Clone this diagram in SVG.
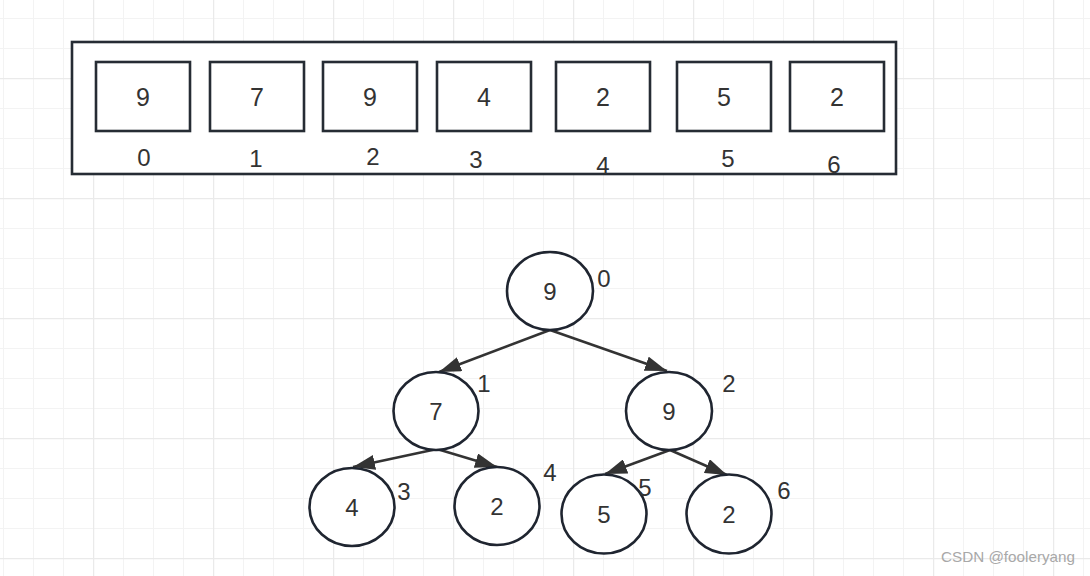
<svg xmlns="http://www.w3.org/2000/svg" width="1090" height="576" viewBox="0 0 1090 576">
<defs>
<pattern id="minor" x="3" y="18" width="30" height="30" patternUnits="userSpaceOnUse">
<path d="M0 0H30M0 0V30" fill="none" stroke="#f3f3f3" stroke-width="2"/>
</pattern>
<pattern id="major" x="93" y="78" width="120" height="120" patternUnits="userSpaceOnUse">
<path d="M0 0H120M0 0V120" fill="none" stroke="#eaeaea" stroke-width="2.5"/>
</pattern>
<marker id="arr" viewBox="0 0 22 15" refX="22" refY="7.5" markerWidth="22" markerHeight="15" orient="auto" markerUnits="userSpaceOnUse">
<path d="M0 0L22 7.5L0 15Z" fill="#333"/>
</marker>
</defs>
<style>
.box{fill:#fff;stroke:#262c34;stroke-width:2.6}
.node{fill:#fff;stroke:#1f2530;stroke-width:2.6}
.t{font-family:"Liberation Sans",Arial,sans-serif;font-size:25px;fill:#333;text-anchor:middle;dominant-baseline:central}
.lbl{font-family:"Liberation Sans",Arial,sans-serif;font-size:24px;fill:#333;text-anchor:middle;dominant-baseline:central}
.edge{stroke:#333;stroke-width:2.5;fill:none;marker-end:url(#arr)}
.wm{font-family:"Liberation Sans",Arial,sans-serif;font-size:15px;fill:#a8a8a8}
</style>
<rect width="1090" height="576" fill="#fff"/>
<rect width="1090" height="576" fill="url(#minor)"/>
<rect width="1090" height="576" fill="url(#major)"/>

<g id="array">
<rect class="box" x="72" y="42" width="824" height="132"/>
</g>
<g id="cell0"><rect class="box" x="96" y="62" width="94" height="69"/><text class="t" x="143" y="97">9</text><text class="lbl" x="144" y="157">0</text></g>
<g id="cell1"><rect class="box" x="210" y="62" width="94" height="69"/><text class="t" x="257" y="97">7</text><text class="lbl" x="256" y="158">1</text></g>
<g id="cell2"><rect class="box" x="323" y="62" width="94" height="69"/><text class="t" x="370" y="97">9</text><text class="lbl" x="373" y="156">2</text></g>
<g id="cell3"><rect class="box" x="437" y="62" width="94" height="69"/><text class="t" x="484" y="97">4</text><text class="lbl" x="476" y="159">3</text></g>
<g id="cell4"><rect class="box" x="556" y="62" width="94" height="69"/><text class="t" x="603" y="97">2</text><text class="lbl" x="603" y="165">4</text></g>
<g id="cell5"><rect class="box" x="677" y="62" width="94" height="69"/><text class="t" x="724" y="97">5</text><text class="lbl" x="728" y="158">5</text></g>
<g id="cell6"><rect class="box" x="790" y="62" width="94" height="69"/><text class="t" x="837" y="97">2</text><text class="lbl" x="834" y="164">6</text></g>

<g id="connectors">
<line class="edge" x1="550" y1="330" x2="439" y2="372"/>
<line class="edge" x1="550" y1="330" x2="667" y2="371"/>
<line class="edge" x1="437" y1="449" x2="353" y2="467"/>
<line class="edge" x1="437" y1="449" x2="497" y2="467"/>
<line class="edge" x1="670" y1="450" x2="605" y2="474"/>
<line class="edge" x1="670" y1="450" x2="727" y2="475"/>
</g>

<g id="n0"><ellipse class="node" cx="550" cy="291" rx="43" ry="39"/><text class="lbl" x="550" y="291">9</text><text class="lbl" x="604" y="278">0</text></g>
<g id="n1"><ellipse class="node" cx="436" cy="411" rx="42.5" ry="39"/><text class="lbl" x="436" y="411">7</text><text class="lbl" x="484" y="383">1</text></g>
<g id="n2"><ellipse class="node" cx="669" cy="411" rx="43" ry="39"/><text class="lbl" x="669" y="411">9</text><text class="lbl" x="729" y="383">2</text></g>
<g id="n3"><ellipse class="node" cx="352" cy="507" rx="42.5" ry="39"/><text class="lbl" x="352" y="507">4</text><text class="lbl" x="404" y="491">3</text></g>
<g id="n4"><ellipse class="node" cx="497" cy="506" rx="42.5" ry="39"/><text class="lbl" x="497" y="506">2</text><text class="lbl" x="550" y="472">4</text></g>
<g id="n5"><ellipse class="node" cx="604" cy="514" rx="42.5" ry="39.5"/><text class="lbl" x="604" y="514">5</text><text class="lbl" x="645" y="487">5</text></g>
<g id="n6"><ellipse class="node" cx="729" cy="514" rx="42.5" ry="39.5"/><text class="lbl" x="729" y="514">2</text><text class="lbl" x="784" y="490">6</text></g>

<text class="wm" x="941" y="562" textLength="134" lengthAdjust="spacingAndGlyphs">CSDN @fooleryang</text>
</svg>
